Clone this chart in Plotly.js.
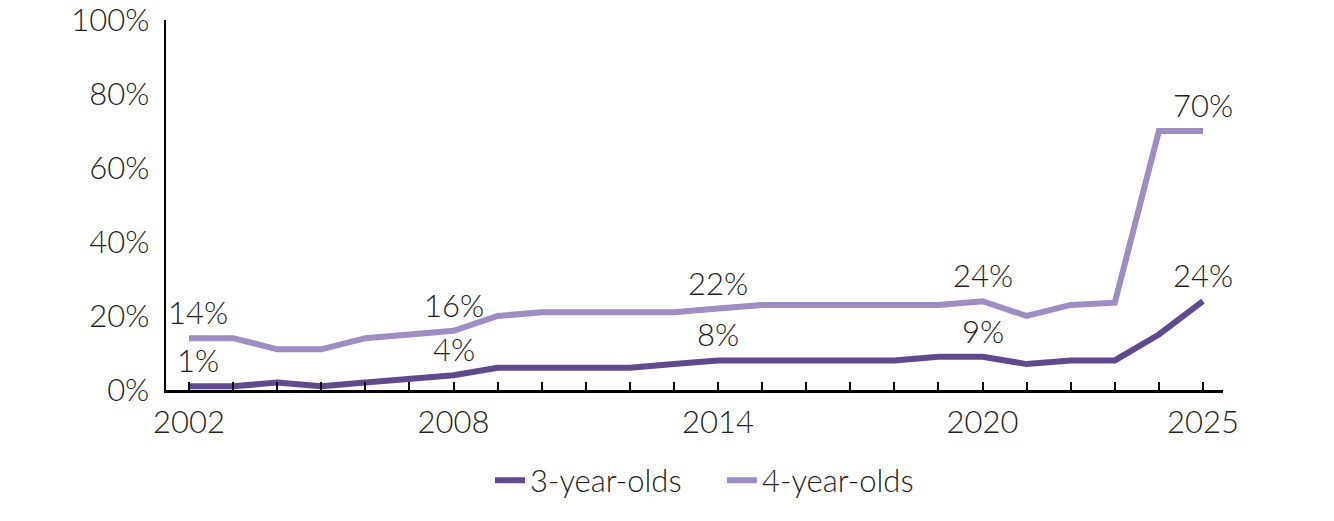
<!DOCTYPE html>
<html>
<head>
<meta charset="utf-8">
<script src="https://cdn.plot.ly/plotly-3.0.1.min.js"></script>
<style>html,body{margin:0;padding:0;background:#fff;}#chart{width:1334px;height:521px;}</style>
</head>
<body>
<div id="chart"></div>
<script>
const years = [2002,2003,2004,2005,2006,2007,2008,2009,2010,2011,2012,2013,2014,2015,2016,2017,2018,2019,2020,2021,2022,2023,2024,2025];
const threeYearOlds = [1,1,2,1,2,3,4,6,6,6,6,7,8,8,8,8,8,9,9,7,8,8,15,24];
const fourYearOlds = [14,14,11,11,14,15,16,20,21,21,21,21,22,23,23,23,23,23,24,20,23,23.6,70,70];
const seriesNames = ['3-year-olds','4-year-olds'];
const labeledYears = [2002,2008,2014,2020,2025];
const xTickLabels = ['2002','2008','2014','2020','2025'];
const yTickVals = [0,20,40,60,80,100];
const yTickText = ['0%','20%','40%','60%','80%','100%'];

const colors = ['#604a8e','#9d8dc3'];
const font = 'Lato, "Open Sans", sans-serif';
const textColor = '#231f20';
const fs = 31;
const fw = 300;

const traces = [threeYearOlds, fourYearOlds].map((vals, i) => ({
  x: years, y: vals, type: 'scatter', mode: 'lines', name: seriesNames[i],
  line: {color: colors[i], width: 6},
  hoverinfo: 'skip'
}));

const annotations = [];
[threeYearOlds, fourYearOlds].forEach(vals => {
  labeledYears.forEach(yr => {
    const idx = years.indexOf(yr);
    annotations.push({
      x: yr, y: vals[idx], xref: 'x', yref: 'y',
      text: Math.round(vals[idx]) + '%', showarrow: false,
      yshift: 26, xshift: yr === years[0] ? 9 : 0,
      font: {family: font, size: fs, weight: fw, color: textColor}
    });
  });
});

const layout = {
  width: 1334, height: 521, autosize: false,
  margin: {l: 166, r: 111, t: 20, b: 131},
  paper_bgcolor: '#fff', plot_bgcolor: '#fff',
  font: {family: font, size: fs, weight: fw, color: textColor},
  showlegend: true,
  legend: {orientation: 'h', x: 0.3065, xanchor: 'left', y: -0.245, yanchor: 'middle',
           entrywidth: 187, entrywidthmode: 'pixels',
           font: {family: font, size: fs, weight: fw, color: textColor}},
  xaxis: {
    range: [2001.478, 2025.454], showgrid: false, zeroline: false,
    showline: true, linecolor: '#000', linewidth: 2.5,
    tickmode: 'array', tickvals: years,
    ticktext: years.map(y => { const k = labeledYears.indexOf(y); return k >= 0 ? xTickLabels[k] : ''; }),
    ticks: 'inside', ticklen: 8, tickwidth: 2, tickcolor: '#000',
    ticklabelstandoff: 3, ticklabeloverflow: 'allow',
    tickfont: {family: font, size: fs, weight: fw, color: textColor}
  },
  yaxis: {
    range: [0, 100], showgrid: false, zeroline: false,
    showline: true, linecolor: '#000', linewidth: 2.5,
    tickmode: 'array', tickvals: yTickVals, ticktext: yTickText,
    ticks: '', ticklabelstandoff: 8, ticklabeloverflow: 'allow',
    tickfont: {family: font, size: fs, weight: fw, color: textColor}
  },
  annotations: annotations
};

Plotly.newPlot('chart', traces, layout, {displayModeBar: false, staticPlot: true});
</script>
</body>
</html>
